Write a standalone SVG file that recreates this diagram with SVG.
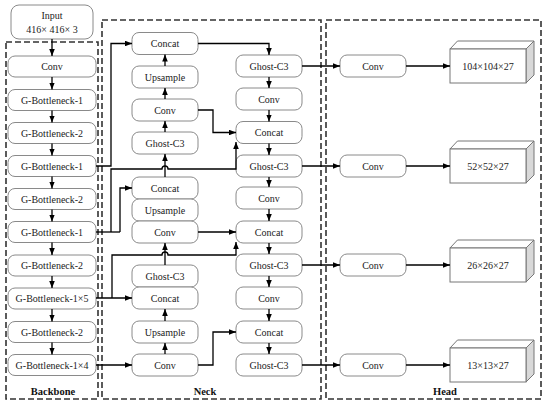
<svg xmlns="http://www.w3.org/2000/svg" width="550" height="407" viewBox="0 0 550 407">
<style>
.nd{fill:#fff;stroke:#8a8a8a;stroke-width:1}
.t{font-family:"Liberation Serif","Times New Roman",serif;font-size:10px;fill:#222;text-anchor:middle}
.lb{font-family:"Liberation Serif","Times New Roman",serif;font-size:10.5px;font-weight:bold;fill:#111;text-anchor:middle}
.grp{fill:none;stroke:#333;stroke-width:1.6;stroke-dasharray:6,3}
.c{fill:none;stroke:#000;stroke-width:1.3;marker-end:url(#ah)}
.cn{fill:none;stroke:#000;stroke-width:1.3}
.fr{fill:#fff;stroke:#777;stroke-width:1}
.sd{fill:#d9d9d9;stroke:#777;stroke-width:1}
</style>
<defs>
<marker id="ah" viewBox="0 0 10 8" refX="10" refY="4" markerWidth="7" markerHeight="5.6" markerUnits="userSpaceOnUse" orient="auto">
<path d="M0,0 L10,4 L0,8 z" fill="#000"/>
</marker>
</defs>
<rect width="550" height="407" fill="#fff"/>

<g id="groups">
<rect class="grp" x="6" y="42" width="92" height="357"/>
<rect class="grp" x="102" y="20" width="219" height="379"/>
<rect class="grp" x="326" y="20" width="215" height="379"/>
<text class="lb" x="53" y="395">Backbone</text>
<text class="lb" x="205" y="395">Neck</text>
<text class="lb" x="445" y="395">Head</text>
</g>

<g id="input"><rect class="nd" x="11" y="5" width="82" height="34" rx="8"/><text class="t" x="52" y="19">Input</text><text class="t" x="52" y="33">416× 416× 3</text></g>

<g id="b1"><rect class="nd" x="8" y="56" width="88" height="21" rx="7"/><text class="t" x="52" y="70">Conv</text></g>
<g id="b2"><rect class="nd" x="8" y="89.5" width="88" height="21" rx="7"/><text class="t" x="52" y="103.5">G-Bottleneck-1</text></g>
<g id="b3"><rect class="nd" x="8" y="122.5" width="88" height="21" rx="7"/><text class="t" x="52" y="136.5">G-Bottleneck-2</text></g>
<g id="b4"><rect class="nd" x="8" y="155.5" width="88" height="21" rx="7"/><text class="t" x="52" y="169.5">G-Bottleneck-1</text></g>
<g id="b5"><rect class="nd" x="8" y="188.5" width="88" height="21" rx="7"/><text class="t" x="52" y="202.5">G-Bottleneck-2</text></g>
<g id="b6"><rect class="nd" x="8" y="221.5" width="88" height="21" rx="7"/><text class="t" x="52" y="235.5">G-Bottleneck-1</text></g>
<g id="b7"><rect class="nd" x="8" y="255" width="88" height="21" rx="7"/><text class="t" x="52" y="269">G-Bottleneck-2</text></g>
<g id="b8"><rect class="nd" x="8" y="288" width="88" height="21" rx="7"/><text class="t" x="52" y="302">G-Bottleneck-1×5</text></g>
<g id="b9"><rect class="nd" x="8" y="321.5" width="88" height="21" rx="7"/><text class="t" x="52" y="335.5">G-Bottleneck-2</text></g>
<g id="b10"><rect class="nd" x="8" y="354.5" width="88" height="21" rx="7"/><text class="t" x="52" y="368.5">G-Bottleneck-1×4</text></g>

<g id="n1"><rect class="nd" x="132" y="32.5" width="66" height="22" rx="7"/><text class="t" x="165" y="47">Concat</text></g>
<g id="n2"><rect class="nd" x="132" y="66" width="66" height="22" rx="7"/><text class="t" x="165" y="80.5">Upsample</text></g>
<g id="n3"><rect class="nd" x="132" y="99" width="66" height="22" rx="7"/><text class="t" x="165" y="113.5">Conv</text></g>
<g id="n4"><rect class="nd" x="132" y="132" width="66" height="22" rx="7"/><text class="t" x="165" y="146.5">Ghost-C3</text></g>
<g id="n5"><rect class="nd" x="132" y="177" width="66" height="22" rx="7"/><text class="t" x="165" y="191.5">Concat</text></g>
<g id="n6"><rect class="nd" x="132" y="199" width="66" height="22" rx="7"/><text class="t" x="165" y="213.5">Upsample</text></g>
<g id="n7"><rect class="nd" x="132" y="221" width="66" height="22" rx="7"/><text class="t" x="165" y="235.5">Conv</text></g>
<g id="n8"><rect class="nd" x="132" y="265" width="66" height="22" rx="7"/><text class="t" x="165" y="279.5">Ghost-C3</text></g>
<g id="n9"><rect class="nd" x="132" y="287" width="66" height="22" rx="7"/><text class="t" x="165" y="301.5">Concat</text></g>
<g id="n10"><rect class="nd" x="132" y="321" width="66" height="22" rx="7"/><text class="t" x="165" y="335.5">Upsample</text></g>
<g id="n11"><rect class="nd" x="132" y="354" width="66" height="22" rx="7"/><text class="t" x="165" y="368.5">Conv</text></g>

<g id="m1"><rect class="nd" x="236" y="55" width="66" height="22" rx="7"/><text class="t" x="269" y="69.5">Ghost-C3</text></g>
<g id="m2"><rect class="nd" x="236" y="88" width="66" height="22" rx="7"/><text class="t" x="269" y="102.5">Conv</text></g>
<g id="m3"><rect class="nd" x="236" y="121.5" width="66" height="22" rx="7"/><text class="t" x="269" y="136">Concat</text></g>
<g id="m4"><rect class="nd" x="236" y="155" width="66" height="22" rx="7"/><text class="t" x="269" y="169.5">Ghost-C3</text></g>
<g id="m5"><rect class="nd" x="236" y="187" width="66" height="22" rx="7"/><text class="t" x="269" y="201.5">Conv</text></g>
<g id="m6"><rect class="nd" x="236" y="221" width="66" height="22" rx="7"/><text class="t" x="269" y="235.5">Concat</text></g>
<g id="m7"><rect class="nd" x="236" y="254" width="66" height="22" rx="7"/><text class="t" x="269" y="268.5">Ghost-C3</text></g>
<g id="m8"><rect class="nd" x="236" y="287" width="66" height="22" rx="7"/><text class="t" x="269" y="301.5">Conv</text></g>
<g id="m9"><rect class="nd" x="236" y="321" width="66" height="22" rx="7"/><text class="t" x="269" y="335.5">Concat</text></g>
<g id="m10"><rect class="nd" x="236" y="354" width="66" height="22" rx="7"/><text class="t" x="269" y="368.5">Ghost-C3</text></g>

<g id="h1"><rect class="nd" x="340" y="55" width="66" height="22" rx="7"/><text class="t" x="373" y="69.5">Conv</text></g>
<g id="h2"><rect class="nd" x="340" y="155" width="66" height="22" rx="7"/><text class="t" x="373" y="169.5">Conv</text></g>
<g id="h3"><rect class="nd" x="340" y="254" width="66" height="22" rx="7"/><text class="t" x="373" y="268.5">Conv</text></g>
<g id="h4"><rect class="nd" x="340" y="354" width="66" height="22" rx="7"/><text class="t" x="373" y="368.5">Conv</text></g>

<g id="o1"><polygon class="fr" points="450,49 457.5,41 534,41 526,49"/><polygon class="sd" points="526,49 534,41 534,75 526,83"/><rect class="fr" x="450" y="49" width="76" height="34"/><text class="t" x="488" y="69.5">104×104×27</text></g>
<g id="o2"><polygon class="fr" points="450,149 457.5,141 534,141 526,149"/><polygon class="sd" points="526,149 534,141 534,175 526,183"/><rect class="fr" x="450" y="149" width="76" height="34"/><text class="t" x="488" y="169.5">52×52×27</text></g>
<g id="o3"><polygon class="fr" points="450,248 457.5,240 534,240 526,248"/><polygon class="sd" points="526,248 534,240 534,274 526,282"/><rect class="fr" x="450" y="248" width="76" height="34"/><text class="t" x="488" y="268.5">26×26×27</text></g>
<g id="o4"><polygon class="fr" points="450,348 457.5,340 534,340 526,348"/><polygon class="sd" points="526,348 534,340 534,374 526,382"/><rect class="fr" x="450" y="348" width="76" height="34"/><text class="t" x="488" y="368.5">13×13×27</text></g>

<g id="connectors">
<path class="c" d="M52,39 V56"/>
<path class="c" d="M52,77 V89.5"/>
<path class="c" d="M52,110.5 V122.5"/>
<path class="c" d="M52,143.5 V155.5"/>
<path class="c" d="M52,176.5 V188.5"/>
<path class="c" d="M52,209.5 V221.5"/>
<path class="c" d="M52,242.5 V255"/>
<path class="c" d="M52,276 V288"/>
<path class="c" d="M52,309 V321.5"/>
<path class="c" d="M52,342.5 V354.5"/>

<path class="c" d="M96,166 H111 V43.5 H132"/>
<path class="c" d="M198,43.5 H269 V55"/>
<path class="c" d="M165,66 V54.5"/>
<path class="c" d="M165,99 V88"/>
<path class="c" d="M165,132 V121"/>
<path class="c" d="M198,110 H213 V132.5 H236"/>
<path class="cn" d="M96,232 H120"/>
<path class="c" d="M120,232 V188 H132"/>
<path class="c" d="M111,232 V169 H162 a3,3 0 0 1 6,0 H236 V142"/>
<path class="c" d="M165,177 V154"/>
<path class="c" d="M198,232 H236"/>
<path class="c" d="M96,298 H132"/>
<path class="c" d="M112,298 V255 H162 a3,3 0 0 1 6,0 H236 V242"/>
<path class="c" d="M165,265 V243"/>
<path class="c" d="M165,321 V309"/>
<path class="c" d="M165,354 V343"/>
<path class="c" d="M96,365 H132"/>
<path class="c" d="M198,365 H213 V332 H236"/>

<path class="c" d="M269,77 V88"/>
<path class="c" d="M269,110 V121.5"/>
<path class="c" d="M269,143.5 V155"/>
<path class="c" d="M269,177 V187"/>
<path class="c" d="M269,209 V221"/>
<path class="c" d="M269,243 V254"/>
<path class="c" d="M269,276 V287"/>
<path class="c" d="M269,309 V321"/>
<path class="c" d="M269,343 V354"/>

<path class="c" d="M302,66 H340"/>
<path class="c" d="M302,166 H340"/>
<path class="c" d="M302,265 H340"/>
<path class="c" d="M302,365 H340"/>
<path class="c" d="M406,66 H450"/>
<path class="c" d="M406,166 H450"/>
<path class="c" d="M406,265 H450"/>
<path class="c" d="M406,365 H450"/>
</g>
</svg>
